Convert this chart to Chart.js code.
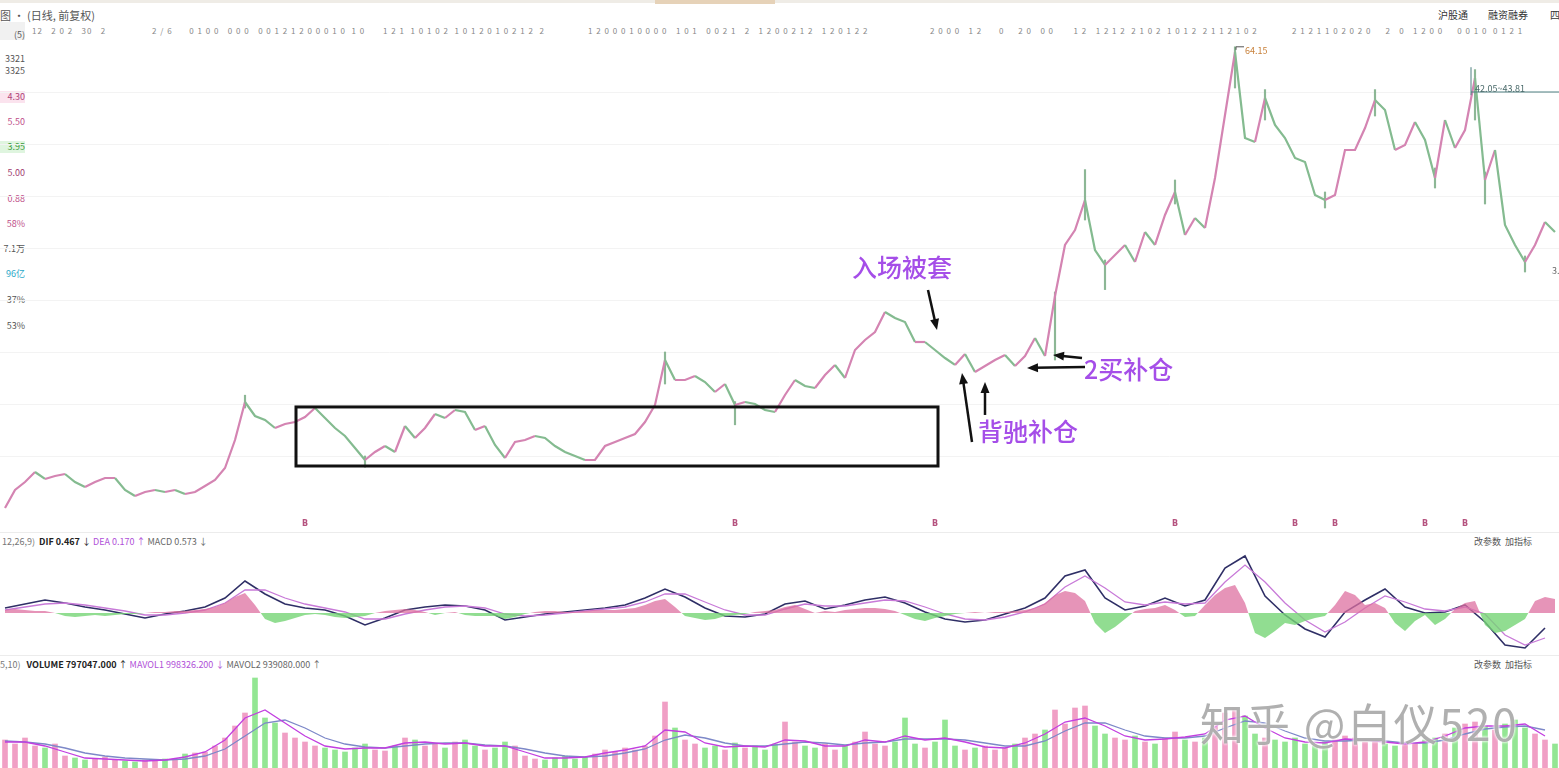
<!DOCTYPE html>
<html>
<head>
<meta charset="utf-8">
<script src="https://cdn.jsdelivr.net/npm/chart.js@4.4.1/dist/chart.umd.min.js"></script>
<style>
  html, body { margin: 0; padding: 0; background: #fff; width: 1559px; height: 768px; overflow: hidden;
    font-family: "Noto Sans CJK SC", "DejaVu Sans", sans-serif; }
  .abs { position: absolute; white-space: nowrap; }
  canvas { position: absolute; left: 0; }
  .side div { position: absolute; left: 0; width: 25px; text-align: right; font-size: 9px; line-height: 12px; color: #555; }
  .note { position: absolute; white-space: nowrap; font-size: 25px; color: #a54ee8; font-weight: 500;
    text-shadow: 0 0 2px #fff, 0 0 2px #fff; }
  .hline { position: absolute; left: 0; width: 1559px; height: 1px; background: #ececec; }
  .tiny { position: absolute; font-size: 8px; color: #888; white-space: pre; top: 25px; letter-spacing: 1px; }
</style>
</head>
<body>

<!-- 顶部栏 -->
<div class="abs" style="left:0;top:0;width:1559px;height:3px;background:#efece6"></div>
<div class="abs" style="left:655px;top:0;width:120px;height:4px;background:#e6d2b8"></div>
<div class="abs" style="left:0;top:7px;font-size:11px;color:#555">图 · (日线, 前复权)</div>
<div class="abs" style="left:1438px;top:7px;font-size:10px;color:#333">沪股通</div>
<div class="abs" style="left:1488px;top:7px;font-size:10px;color:#333">融资融券</div>
<div class="abs" style="left:1550px;top:7px;font-size:10px;color:#333">四</div>

<div class="tiny" style="left:32px">12   2 0 2   30   2</div>
<div class="tiny" style="left:152px">2 / 6      0 1 0 0   0 0 0   0 0 1 2 1 2 0 0 0 1 0  1 0</div>
<div class="tiny" style="left:383px">1 2 1  1 0 1 0 2  1 0 1 2 0 1 0 2 1 2  2</div>
<div class="tiny" style="left:588px">1 2 0 0 0 1 0 0 0 0   1 0 1   0 0 2 1   2   1 2 0 0 2 1 2   1 2 0 1 2 2</div>
<div class="tiny" style="left:930px">2 0 0 0   1 2      0     2 0   0 0       1 2   1 2 1 2  2 1 0 2  1 0 1 2  2 1 1 2 1 0 2</div>
<div class="tiny" style="left:1292px">2 1 2 1 1 0 2 0 2 0     2   0   1 2 0 0     0 0 1 0  0 1 2 1</div>

<!-- 左侧信息列 -->
<div class="abs" style="left:0;top:22px;width:25px;height:18px;background:#f1f1f1"></div>
<div class="side">
  <div style="top:29px">(5)</div>
  <div style="top:53px">3321</div>
  <div style="top:65px">3325</div>
  <div style="top:91px;background:#fbe3ee;color:#b0457a">4.30</div>
  <div style="top:116px;color:#c0508a">5.50</div>
  <div style="top:141px;background:#dff5df;color:#3c9a3c">3.95</div>
  <div style="top:167px;color:#a04070">5.00</div>
  <div style="top:193px;color:#c0508a">0.88</div>
  <div style="top:218px;color:#c0508a">58%</div>
  <div style="top:243px">7.1万</div>
  <div style="top:268px;color:#2aa8c8">96亿</div>
  <div style="top:294px">37%</div>
  <div style="top:320px">53%</div>
</div>

<!-- 分隔线 -->
<div class="hline" style="top:532px"></div>
<div class="hline" style="top:655px"></div>

<!-- MACD 标题 -->
<div class="abs" style="left:2px;top:535px;font-size:9px;color:#777">12,26,9)&nbsp;
  <b style="color:#222">DIF 0.467</b> <span style="color:#222">↓</span>
  <span style="color:#b04fd8">DEA 0.170</span> <span style="color:#b04fd8">↑</span>
  <span style="color:#666">MACD 0.573</span> <span style="color:#666">↓</span></div>
<div class="abs" style="left:1474px;top:535px;font-size:9px;color:#555">改参数&nbsp;&nbsp;加指标</div>

<!-- VOLUME 标题 -->
<div class="abs" style="left:0;top:658px;font-size:9px;color:#777">5,10)&nbsp;&nbsp;
  <b style="color:#222">VOLUME 797047.000</b> <span style="color:#222">↑</span>
  <span style="color:#b04fd8">MAVOL1 998326.200</span> <span style="color:#b04fd8">↓</span>
  <span style="color:#666">MAVOL2 939080.000</span> <span style="color:#666">↑</span></div>
<div class="abs" style="left:1474px;top:658px;font-size:9px;color:#555">改参数&nbsp;&nbsp;加指标</div>

<canvas id="price" width="1559" height="492" style="top:40px"></canvas>
<canvas id="macd" width="1559" height="107" style="top:548px"></canvas>
<canvas id="vol" width="1559" height="96" style="top:672px"></canvas>

<div class="note" id="lbEnter">入场被套</div>
<div class="note" id="lbDiv">背驰补仓</div>
<div class="note" id="lbBuy2">2买补仓</div>
<div class="abs" id="lbHigh" style="font-size:9px;color:#c8803a">64.15</div>
<div class="abs" id="lbRange" style="font-size:9px;color:#4a6a6a">42.05~43.81</div>
<div class="abs" id="lbEnd" style="font-size:9px;color:#666">3.</div>

<div class="abs" style="left:1200px;top:690px;font-size:44px;letter-spacing:2px;color:rgba(150,150,150,0.75);
  text-shadow:0 0 3px #fff,0 0 3px #fff;z-index:5">知乎 @白仪520</div>

<script>
// 收盘价(约每10px一根取样)
const closes = [6.5, 8.75, 9.75, 11.0, 10.13, 10.5, 10.75, 9.75, 9.13, 9.75,
  10.25, 10.25, 8.75, 8.0, 8.5, 8.75, 8.5, 8.75, 8.25, 8.5,
  9.25, 10.0, 11.5, 15.0, 19.75, 18.0, 17.5, 16.5, 17.0, 17.25,
  17.88, 19.0, 17.75, 16.5, 15.5, 14.0, 12.5, 13.5, 14.25, 13.5,
  16.75, 15.25, 16.5, 18.25, 17.75, 18.75, 18.5, 16.25, 16.75, 14.38,
  12.75, 14.75, 15.0, 15.5, 15.25, 14.25, 13.5, 13.0, 12.5, 12.5,
  14.25, 14.75, 15.25, 15.75, 17.25, 19.38, 25.0, 22.5, 22.5, 23.0,
  22.25, 21.0, 22.0, 19.38, 19.75, 19.5, 18.75, 18.5, 20.63, 22.5,
  21.75, 21.5, 23.13, 24.38, 22.75, 26.25, 27.5, 28.5, 31.0, 30.25,
  29.75, 27.25, 27.25, 26.25, 25.25, 24.38, 25.75, 23.5, 24.25, 25.0,
  25.63, 24.25, 25.5, 27.75, 25.5, 33.0, 39.38, 41.25, 45.0, 38.75,
  36.88, 38.13, 39.38, 37.25, 41.0, 39.38, 43.13, 46.0, 40.63, 42.75,
  41.5, 47.75, 55.63, 63.5, 52.75, 52.25, 57.75, 54.38, 52.75, 50.25,
  49.75, 45.63, 45.0, 45.63, 51.25, 51.25, 54.0, 57.5, 56.25, 51.25,
  51.88, 54.75, 52.5, 47.75, 55.0, 51.5, 53.75, 60.25, 47.5, 51.25,
  41.88, 39.38, 37.25, 39.38, 42.25, 41.0];

// 明显的影线 [K线序号, 最低, 最高]
const wicks = [[24, 19.0, 20.6], [36, 11.6, 13.0], [66, 22.0, 26.0], [73, 16.9, 19.8],
  [105, 25.0, 33.5], [108, 42.5, 48.8], [110, 33.8, 37.5], [117, 44.5, 47.5],
  [123, 59.0, 64.15], [126, 55.0, 58.8], [132, 44.0, 46.0], [137, 55.5, 58.8],
  [143, 46.5, 49.0], [147, 55.0, 61.3], [148, 44.5, 48.5], [152, 36.0, 38.0]];

// 成交量(万)
const volume = [56, 48, 60, 44, 40, 48, 24, 20, 16, 18,
  22, 16, 14, 12, 16, 14, 18, 16, 28, 30,
  32, 44, 60, 84, 110, 180, 100, 90, 70, 60,
  52, 44, 40, 36, 32, 40, 48, 36, 34, 44,
  60, 56, 44, 48, 40, 52, 56, 44, 36, 40,
  52, 44, 24, 18, 16, 20, 24, 18, 22, 28,
  36, 32, 40, 36, 44, 64, 132, 80, 56, 48,
  40, 44, 36, 50, 40, 44, 36, 48, 92, 52,
  44, 40, 48, 36, 44, 52, 72, 48, 44, 52,
  100, 48, 40, 52, 96, 44, 36, 40, 44, 36,
  40, 48, 60, 68, 76, 116, 88, 120, 124, 84,
  68, 60, 56, 64, 52, 48, 60, 72, 56, 52,
  60, 88, 110, 120, 104, 68, 60, 56, 52, 60,
  48, 44, 52, 56, 64, 60, 52, 56, 48, 44,
  52, 48, 56, 60, 68, 80, 88, 92, 84, 76,
  88, 96, 80, 68, 56, 48];

// 量均线(每2根取样)
const mavol1 = [52, 52, 44, 32, 20, 18, 16, 14, 16, 22,
  32, 56, 100, 116, 90, 64, 44, 38, 40, 40,
  50, 52, 48, 50, 44, 44, 32, 20, 20, 22,
  30, 36, 44, 76, 72, 50, 42, 44, 42, 56,
  54, 44, 44, 56, 52, 64, 56, 60, 52, 42,
  40, 50, 68, 92, 100, 84, 64, 56, 58, 62,
  68, 96, 104, 80, 60, 52, 50, 58, 56, 52,
  48, 52, 64, 80, 84, 84, 88, 64];
const mavol2 = [54, 52, 48, 40, 30, 24, 20, 18, 16, 18,
  24, 38, 64, 90, 96, 80, 60, 48, 42, 40,
  44, 48, 50, 50, 46, 44, 38, 30, 24, 22,
  24, 30, 38, 56, 66, 60, 50, 44, 44, 48,
  52, 50, 46, 50, 52, 58, 58, 58, 56, 50,
  44, 44, 54, 74, 90, 90, 76, 64, 60, 60,
  64, 80, 94, 90, 74, 60, 54, 54, 56, 54,
  50, 50, 56, 68, 78, 82, 84, 76];

// MACD(每2根取样)
const dif = [0.5, 0.9, 1.3, 1.0, 0.6, 0.3, -0.1, -0.5, -0.1, 0.2,
  0.6, 1.5, 3.2, 1.9, 0.9, 0.5, 0.3, -0.3, -1.2, -0.5,
  0.3, 0.6, 0.8, 0.7, 0.3, -0.7, -0.4, -0.1, 0.1, 0.3,
  0.5, 0.8, 1.5, 2.4, 1.6, 0.5, -0.3, -0.4, -0.1, 0.9,
  1.2, 0.4, 0.8, 1.3, 1.6, 1.0, 0.1, -0.6, -0.9, -0.7,
  -0.1, 0.5, 1.5, 3.7, 4.3, 1.5, 0.3, 0.7, 1.5, 0.7,
  1.3, 4.5, 5.7, 1.7, -0.2, -1.6, -2.4, 0.1, 1.3, 2.4,
  0.6, 0.0, 0.1, 0.8, -0.9, -3.2, -3.5, -1.5];
const dea = [0.3, 0.6, 0.9, 1.0, 0.8, 0.5, 0.2, -0.2, -0.2, 0.0,
  0.3, 1.0, 2.3, 2.3, 1.5, 0.9, 0.5, 0.1, -0.6, -0.6,
  -0.1, 0.3, 0.6, 0.7, 0.5, -0.1, -0.3, -0.2, 0.0, 0.2,
  0.4, 0.6, 1.1, 1.9, 1.9, 1.1, 0.3, -0.2, -0.2, 0.4,
  0.9, 0.7, 0.7, 1.0, 1.3, 1.2, 0.6, -0.1, -0.6, -0.7,
  -0.4, 0.1, 0.9, 2.6, 3.7, 2.5, 1.1, 0.8, 1.1, 0.9,
  1.0, 3.1, 4.8, 3.1, 1.0, -0.7, -1.9, -0.9, 0.5, 1.7,
  1.1, 0.4, 0.2, 0.6, -0.1, -2.2, -3.2, -2.5];
const macdHist = [0.3, 0.4, 0.3, 0.2, 0.2, 0, -0.3, -0.4, -0.3, -0.2,
  -0.3, -0.2, -0.1, -0.1, 0, 0.1, 0.1, 0.2, 0.2, 0.3,
  0.4, 0.6, 1.0, 1.6, 2.0, 0.8, -0.6, -1.0, -0.8, -0.5,
  -0.2, -0.1, -0.2, -0.4, -0.5, -0.4, -0.3, 0, 0.2, 0.3,
  0.4, 0.3, 0.1, -0.2, 0, 0.1, -0.2, -0.3, -0.3, -0.3,
  -0.6, -0.4, -0.1, 0.1, 0.2, 0.2, 0.1, 0.1, 0.2, 0.3,
  0.3, 0.3, 0.4, 0.5, 0.8, 1.2, 1.4, 0.6, -0.3, -0.5,
  -0.7, -0.6, -0.3, -0.2, -0.1, 0.1, 0.2, 0.3, 0.6, 0.8,
  0.4, 0, 0.2, 0.1, 0.3, 0.4, 0.5, 0.5, 0.4, 0.2,
  -0.2, -0.6, -0.8, -0.5, -0.3, -0.1, 0, 0.1, 0, 0.1,
  0.1, 0.2, 0.3, 0.5, 1.0, 1.8, 2.2, 2.0, 1.2, -1.0,
  -2.0, -1.4, -0.6, 0.2, 0.4, 0.5, 0.8, 0.3, -0.4, -0.3,
  0.8, 1.8, 2.5, 2.8, 1.0, -2.0, -2.5, -1.8, -1.0, -1.2,
  -0.8, -0.5, -0.3, 0.8, 2.2, 1.8, 0.8, 1.0, 0.5, -1.0,
  -1.8, -0.8, -0.2, -1.2, -0.6, 0.4, 1.0, 1.2, -1.2, -2.0,
  -1.8, -1.2, -0.6, 1.2, 1.6, 1.4];

// B点信号所在K线
const signalIdx = [30, 73, 93, 117, 129, 133, 142, 146];

// 标注:框(K线序号, 价格)、箭头[起点序号, 起点价, 终点序号, 终点价]
const boxIdx = [29.1, 93.3];
const boxPrice = [19.13, 11.75];
const arrows = [
  [92.3, 33.75, 93.2, 28.75],
  [96.7, 14.75, 95.7, 23.38],
  [98.0, 18.13, 98.0, 22.25],
  [107.7, 25.25, 104.8, 25.63],
  [108.0, 24.13, 102.2, 24.0]
];
const gridPrices = [58.5, 52, 45.5, 39, 32.5, 26, 19.5, 13];

const PINK = '#d484b2', GREEN = '#84bb90';
const xScale = { type: 'linear', min: -0.5, max: 155.4, offset: false, display: false };
const base = {
  responsive: false, animation: false,
  layout: { padding: 0 },
  plugins: { legend: { display: false }, tooltip: { enabled: false } },
  elements: { point: { radius: 0 } }
};
const idx = (arr, step) => arr.map((v, i) => ({ x: i * step, y: v }));

function drawArrow(ctx, x1, y1, x2, y2) {
  const ang = Math.atan2(y2 - y1, x2 - x1);
  ctx.beginPath();
  ctx.moveTo(x1, y1);
  ctx.lineTo(x2 - 7 * Math.cos(ang), y2 - 7 * Math.sin(ang));
  ctx.stroke();
  ctx.beginPath();
  ctx.moveTo(x2, y2);
  ctx.lineTo(x2 - 11 * Math.cos(ang) + 4.5 * Math.sin(ang), y2 - 11 * Math.sin(ang) - 4.5 * Math.cos(ang));
  ctx.lineTo(x2 - 11 * Math.cos(ang) - 4.5 * Math.sin(ang), y2 - 11 * Math.sin(ang) + 4.5 * Math.cos(ang));
  ctx.closePath();
  ctx.fill();
}

function place(id, left, top, anchor) {
  const el = document.getElementById(id);
  el.style.left = left + 'px';
  el.style.top = top + 'px';
  el.style.transform = anchor === 'center' ? 'translate(-50%,-50%)' : 'translate(0,-50%)';
}

const priceMarks = {
  id: 'priceMarks',
  beforeDatasetsDraw(chart) {
    const { ctx, chartArea, scales: { y } } = chart;
    ctx.save();
    ctx.strokeStyle = '#f3f3f3';
    ctx.lineWidth = 1;
    gridPrices.forEach(p => {
      const py = Math.round(y.getPixelForValue(p)) + 0.5;
      ctx.beginPath(); ctx.moveTo(chartArea.left, py); ctx.lineTo(chartArea.right, py); ctx.stroke();
    });
    ctx.restore();
  },
  afterDatasetsDraw(chart) {
    const { ctx, scales: { x, y } } = chart;
    ctx.save();
    // 横盘框
    ctx.strokeStyle = '#111';
    ctx.lineWidth = 3;
    const bx0 = x.getPixelForValue(boxIdx[0]), bx1 = x.getPixelForValue(boxIdx[1]);
    const by0 = y.getPixelForValue(boxPrice[0]), by1 = y.getPixelForValue(boxPrice[1]);
    ctx.strokeRect(bx0, by0, bx1 - bx0, by1 - by0);
    // 箭头
    ctx.lineWidth = 2.5;
    ctx.fillStyle = '#111';
    arrows.forEach(a => drawArrow(ctx, x.getPixelForValue(a[0]), y.getPixelForValue(a[1]),
      x.getPixelForValue(a[2]), y.getPixelForValue(a[3])));
    // 最高价标记
    ctx.strokeStyle = '#555';
    ctx.lineWidth = 1;
    const hx = x.getPixelForValue(123.1), hy = y.getPixelForValue(64.15);
    ctx.beginPath(); ctx.moveTo(hx, hy + 3); ctx.lineTo(hx, hy); ctx.lineTo(hx + 8, hy); ctx.stroke();
    // 区间线
    ctx.strokeStyle = '#4d7f80';
    const rx = x.getPixelForValue(146.6);
    ctx.beginPath(); ctx.moveTo(rx, y.getPixelForValue(61.6)); ctx.lineTo(rx, y.getPixelForValue(58.1)); ctx.stroke();
    ctx.beginPath(); ctx.moveTo(rx, y.getPixelForValue(58.5)); ctx.lineTo(x.right, y.getPixelForValue(58.5)); ctx.stroke();
    // B 点
    ctx.fillStyle = '#b5537f';
    ctx.font = 'bold 8px DejaVu Sans';
    ctx.textAlign = 'center';
    signalIdx.forEach(i => ctx.fillText('B', x.getPixelForValue(i), y.bottom + 11));
    ctx.restore();
  },
  afterRender(chart) {
    const { x, y } = chart.scales;
    const top = 40;
    place('lbEnter', x.getPixelForValue(89.7), top + y.getPixelForValue(36.75), 'center');
    place('lbDiv', x.getPixelForValue(97.3), top + y.getPixelForValue(16.25), 'left');
    place('lbBuy2', x.getPixelForValue(107.9), top + y.getPixelForValue(24.0), 'left');
    place('lbHigh', x.getPixelForValue(124.0), top + y.getPixelForValue(63.75), 'left');
    place('lbRange', x.getPixelForValue(147.0), top + y.getPixelForValue(59.0), 'left');
    place('lbEnd', x.getPixelForValue(154.7), top + y.getPixelForValue(36.25), 'left');
  }
};

new Chart(document.getElementById('price'), {
  type: 'line',
  data: {
    datasets: [
      {
        data: idx(closes, 1),
        borderWidth: 2.2,
        borderColor: GREEN,
        segment: { borderColor: c => c.p1.parsed.y >= c.p0.parsed.y ? PINK : GREEN }
      },
      {
        type: 'bar',
        data: wicks.map(w => ({ x: w[0], y: [w[1], w[2]] })),
        backgroundColor: 'rgba(120,170,130,0.85)',
        barThickness: 1.5
      }
    ]
  },
  options: {
    ...base,
    layout: { padding: { bottom: 17 } },
    scales: { x: xScale, y: { display: false, min: 5.625, max: 65 } }
  },
  plugins: [priceMarks]
});

new Chart(document.getElementById('macd'), {
  type: 'line',
  data: {
    datasets: [
      { data: idx(macdHist, 1), borderWidth: 0, borderColor: 'rgba(0,0,0,0)',
        fill: { target: 'origin', above: 'rgba(222,112,160,0.75)', below: 'rgba(118,212,118,0.8)' } },
      { data: idx(dea, 2), borderColor: '#c87ad8', borderWidth: 1.3 },
      { data: idx(dif, 2), borderColor: '#2f2f66', borderWidth: 1.6 }
    ]
  },
  options: { ...base, scales: { x: xScale, y: { display: false, min: -4.2, max: 6.5 } } }
});

const volColors = closes.map((c, i) => (i === 0 || c >= closes[i - 1]) ? 'rgba(236,135,182,0.8)' : 'rgba(128,226,128,0.85)');
new Chart(document.getElementById('vol'), {
  type: 'bar',
  data: {
    datasets: [
      { type: 'line', data: idx(mavol2, 2), borderColor: '#7d88c8', borderWidth: 1.3, order: 1 },
      { type: 'line', data: idx(mavol1, 2), borderColor: '#c23ee0', borderWidth: 1.3, order: 0 },
      { type: 'bar', data: idx(volume, 1), backgroundColor: volColors, barThickness: 5, order: 2 }
    ]
  },
  options: { ...base, scales: { x: xScale, y: { display: false, min: 0, max: 192 } } }
});
</script>
</body>
</html>
